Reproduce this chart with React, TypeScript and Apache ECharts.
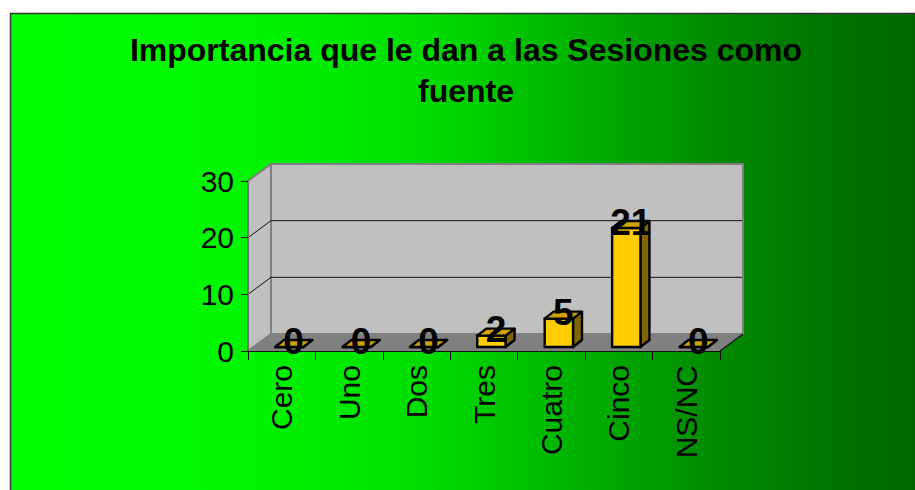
import React, { useEffect, useRef } from "react";
import * as echarts from "echarts";

const categories = ["Cero", "Uno", "Dos", "Tres", "Cuatro", "Cinco", "NS/NC"];
const values = [0, 0, 0, 2, 5, 21, 0];
const yMin = 0;
const yMax = 30;
const yInterval = 10;
const gridValues = [10, 20];
const titleLines = ["Importancia que le dan a las Sesiones como", "fuente"];

const FONT = "'Liberation Sans', Arial, Helvetica, sans-serif";
const DX = 23;
const DY = -17;

export default function App() {
  const ref = useRef<HTMLDivElement>(null);

  useEffect(() => {
    if (!ref.current) return;
    const chart = echarts.init(ref.current, undefined, { renderer: "svg" });

    const wallsRender = (params: any, api: any) => {
      const cs = params.coordSys;
      const x0 = cs.x;
      const x1 = cs.x + cs.width;
      const yTop = cs.y;
      const yBot = cs.y + cs.height;
      const children: any[] = [];
      children.push({
        type: "polygon",
        shape: { points: [[x0, yBot], [x1, yBot], [x1 + DX, yBot + DY], [x0 + DX, yBot + DY]] },
        style: { fill: "#808080", stroke: "#808080", lineWidth: 1 },
      });
      children.push({
        type: "rect",
        shape: { x: x0 + DX, y: yTop + DY, width: x1 - x0, height: yBot - yTop },
        style: { fill: "#C0C0C0", stroke: "#808080", lineWidth: 2 },
      });
      children.push({
        type: "polygon",
        shape: { points: [[x0, yTop], [x0 + DX, yTop + DY], [x0 + DX, yBot + DY], [x0, yBot]] },
        style: { fill: "#C0C0C0", stroke: "#808080", lineWidth: 2 },
      });
      children.push({
        type: "polygon",
        shape: { points: [[x0 + 1, yBot], [x1, yBot], [x1 + DX, yBot + DY], [x0 + DX + 1, yBot + DY]] },
        style: { fill: "#808080", stroke: "none" },
      });
      children.push({
        type: "line",
        shape: { x1: x1, y1: yBot, x2: x1 + DX, y2: yBot + DY },
        style: { stroke: "#111", lineWidth: 1.2 },
      });
      gridValues.forEach((v) => {
        const y = api.coord([0, v])[1];
        children.push({
          type: "polyline",
          shape: { points: [[x0, y], [x0 + DX, y + DY], [x1 + DX - 1, y + DY]] },
          style: { stroke: "#111", lineWidth: 1, fill: "none" },
        });
      });
      return { type: "group", children };
    };

    const barsRender = (params: any, api: any) => {
      const idx = api.value(0);
      const val = api.value(1);
      const top = api.coord([idx, val]);
      const base = api.coord([idx, 0]);
      const catW = api.size([1, 0])[0];
      const w = catW * 0.42;
      const cx = top[0] + catW * 0.11;
      const xl = cx - w / 2;
      const xr = cx + w / 2;
      const yt = top[1] - 4;
      const yb = base[1] - 4;
      const dx = 9;
      const dy = -7;
      const stroke = "#000";
      const lw = 2.4;
      return {
        type: "group",
        children: [
          {
            type: "polygon",
            shape: { points: [[xr, yt], [xr + dx, yt + dy], [xr + dx, yb + dy], [xr, yb]] },
            style: { fill: "#806600", stroke, lineWidth: lw, lineJoin: "round" },
          },
          {
            type: "rect",
            shape: { x: xl, y: yt, width: w, height: yb - yt },
            style: { fill: "#FFCC00", stroke, lineWidth: lw },
          },
          {
            type: "polygon",
            shape: { points: [[xl, yt], [xr, yt], [xr + dx, yt + dy], [xl + dx, yt + dy]] },
            style: { fill: "#CCA300", stroke, lineWidth: lw, lineJoin: "round" },
          },
          {
            type: "text",
            x: cx + dx / 2,
            y: yt - 6,
            style: {
              text: String(val),
              fontSize: 37,
              fontWeight: "bold",
              fontFamily: FONT,
              fill: "#000",
              align: "center",
              verticalAlign: "middle",
            },
          },
        ],
      };
    };

    chart.setOption({
      animation: false,
      graphic: [
        {
          type: "rect",
          z: -10,
          shape: { x: 10.5, y: 13.5, width: 930, height: 500 },
          style: {
            fill: new echarts.graphic.LinearGradient(0, 0, 1, 0, [
              { offset: 0, color: "#00ff00" },
              { offset: 0.25, color: "#00f600" },
              { offset: 0.45, color: "#00dc00" },
              { offset: 0.6, color: "#00b400" },
              { offset: 0.75, color: "#008c00" },
              { offset: 0.9, color: "#007000" },
              { offset: 1, color: "#006400" },
            ]),
            stroke: "#333",
            lineWidth: 1.5,
          },
        },
        {
          type: "text",
          z: 10,
          x: 466,
          y: 50,
          style: {
            text: titleLines[0],
            fontSize: 32,
            fontWeight: "bold",
            fontFamily: FONT,
            fill: "#000",
            align: "center",
            verticalAlign: "middle",
          },
        },
        {
          type: "text",
          z: 10,
          x: 466,
          y: 91,
          style: {
            text: titleLines[1],
            fontSize: 32,
            fontWeight: "bold",
            fontFamily: FONT,
            fill: "#000",
            align: "center",
            verticalAlign: "middle",
          },
        },
      ],
      grid: { left: 248, right: 195, top: 181, bottom: 139, containLabel: false },
      xAxis: {
        type: "category",
        data: categories,
        z: 5,
        axisLine: { show: true, lineStyle: { color: "#111", width: 1.2 } },
        axisTick: { show: true, length: 9, lineStyle: { color: "#111", width: 1 } },
        axisLabel: {
          rotate: 90,
          fontSize: 30,
          fontFamily: FONT,
          color: "#000",
          margin: 14,
          interval: 0,
        },
        splitLine: { show: false },
      },
      yAxis: {
        type: "value",
        min: yMin,
        max: yMax,
        interval: yInterval,
        z: 5,
        axisLine: { show: true, lineStyle: { color: "#707070", width: 2 } },
        axisTick: { show: true, length: 7, lineStyle: { color: "#111", width: 1 } },
        axisLabel: { fontSize: 30, fontFamily: FONT, color: "#000", margin: 14 },
        splitLine: { show: false },
      },
      series: [
        {
          type: "custom",
          z: 1,
          silent: true,
          clip: false,
          renderItem: wallsRender,
          data: [[0, 0]],
          encode: { x: 0, y: 1 },
        },
        {
          type: "custom",
          z: 3,
          clip: false,
          renderItem: barsRender,
          data: values.map((v, i) => [i, v]),
          encode: { x: 0, y: 1 },
        },
      ],
    });

    return () => chart.dispose();
  }, []);

  return (
    <div
      ref={ref}
      style={{ position: "fixed", left: 0, top: 0, width: 915, height: 490, background: "#fff" }}
    />
  );
}
